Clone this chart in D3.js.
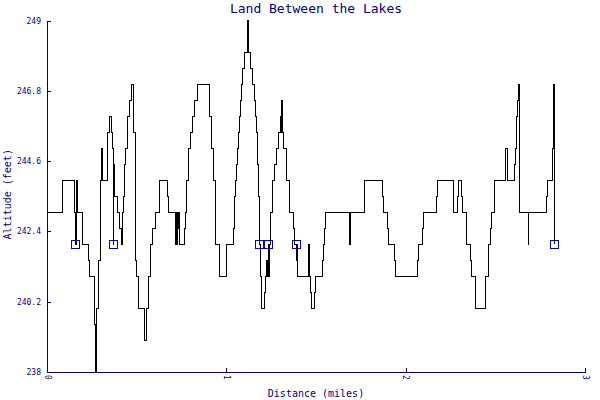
<!DOCTYPE html>
<html>
<head>
<meta charset="utf-8">
<script src="https://cdn.jsdelivr.net/npm/d3@7"></script>
<style>
  html, body { margin: 0; padding: 0; background: #fff; }
  svg { display: block; }
</style>
</head>
<body>
<svg id="chart" width="600" height="400"></svg>
<script>
// ---- data ----
const title = "Land Between the Lakes";
const xLabel = "Distance (miles)";
const yLabel = "Altitude (feet)";

// distance (miles) where the altitude changes, and the altitude (feet) from there on
const distance = [
  0.0000, 0.0853, 0.1544, 0.1600, 0.1655, 0.1711, 0.1990, 0.2324, 0.2357, 0.2658,
  0.2675, 0.2703, 0.2731, 0.2748, 0.2770, 0.2881, 0.2993, 0.3026, 0.3104, 0.3361,
  0.3472, 0.3584, 0.3639, 0.3695, 0.3717, 0.3734, 0.3751, 0.3773, 0.3918, 0.4029,
  0.4141, 0.4219, 0.4275, 0.4330, 0.4386, 0.4475, 0.4587, 0.4698, 0.4849, 0.4921,
  0.4977, 0.5088, 0.5423, 0.5534, 0.5646, 0.5757, 0.5869, 0.6036, 0.6281, 0.6705,
  0.6783, 0.7150, 0.7178, 0.7206, 0.7262, 0.7318, 0.7357, 0.7412, 0.7652, 0.7708,
  0.7786, 0.7897, 0.8009, 0.8120, 0.8209, 0.8376, 0.9068, 0.9196, 0.9291, 0.9380,
  0.9603, 1.0004, 1.0383, 1.0439, 1.0494, 1.0550, 1.0606, 1.0684, 1.0728, 1.0795,
  1.0851, 1.0923, 1.1035, 1.1174, 1.1219, 1.1369, 1.1481, 1.1592, 1.1648, 1.1704,
  1.1759, 1.1815, 1.1854, 1.1888, 1.1943, 1.2111, 1.2166, 1.2222, 1.2278, 1.2333,
  1.2361, 1.2389, 1.2445, 1.2556, 1.2668, 1.2779, 1.2891, 1.3002, 1.3041, 1.3069,
  1.3114, 1.3169, 1.3376, 1.3504, 1.3727, 1.3783, 1.3933, 1.3961, 1.3989, 1.4563,
  1.4591, 1.4618, 1.4646, 1.4674, 1.4730, 1.4897, 1.4953, 1.5343, 1.5399, 1.5455,
  1.5510, 1.6848, 1.6903, 1.7684, 1.8687, 1.8743, 1.8966, 1.9021, 1.9356, 1.9411,
  2.0638, 2.0693, 2.0916, 2.0972, 2.1697, 2.1752, 2.2644, 2.2867, 2.2923, 2.3090,
  2.3146, 2.3369, 2.3592, 2.3647, 2.3870, 2.4428, 2.4595, 2.4706, 2.4762, 2.4929,
  2.5542, 2.5654, 2.6044, 2.6100, 2.6155, 2.6211, 2.6267, 2.6322, 2.6824, 2.6863,
  2.7827, 2.7882, 2.8161, 2.8217, 2.8245, 2.8273
];
const altitude = [
  243, 244, 243, 242, 244, 243, 242, 241.5, 241, 240,
  239.5, 238, 239.5, 238, 240, 241.5, 244, 245, 244, 245.5,
  246, 245.5, 245, 242, 245, 243.5, 244.5, 243.5, 243, 242.5,
  242, 243, 243.5, 244.5, 245, 246, 246.5, 247, 245.5, 241.5,
  241, 240, 239, 240, 241, 242, 242.5, 243, 244, 243.5,
  243, 242, 243, 242, 243, 242.5, 243, 242, 242.5, 243,
  244, 245, 245.5, 246, 246.5, 247, 246, 245, 244, 242,
  241, 242, 242.5, 243.5, 244, 244.5, 245, 245.5, 246, 246.5,
  247, 247.5, 248, 249, 248, 247.5, 247, 246.5, 246, 245.5,
  244.5, 243.5, 242, 241, 240, 240.5, 241, 241.5, 241, 242,
  241, 242, 243, 244, 244.5, 245, 245.5, 246, 245.5, 246.5,
  245.5, 245, 244, 243, 242.5, 242, 241.5, 242, 241, 242,
  241, 242, 241, 240.5, 240, 240.5, 241, 241.5, 242, 242.5,
  243, 242, 243, 244, 243.5, 243, 242.5, 242, 241.5, 241,
  241.5, 242, 242.5, 243, 243.5, 244, 243, 243.5, 244, 243.5,
  243, 242, 241.5, 241, 240, 241, 242, 242.5, 243, 244,
  245, 244, 244.5, 245, 246, 246.5, 247, 243, 242, 243,
  243.5, 244, 245, 246, 247, 242
];

// waypoint markers
const waypointDistance = [0.1600, 0.3695, 1.1854, 1.2333, 1.3894, 2.8273];
const waypointAltitude = [242, 242, 242, 242, 242, 242];

// axes
const xTicks = [0, 1, 2, 3];
const xTickLabels = ["0", "1", "2", "3"];
const yTicks = [238, 240.2, 242.4, 244.6, 246.8, 249];
const yTickLabels = ["238", "240.2", "242.4", "244.6", "246.8", "249"];

// ---- drawing ----
const navy = "#000080";
const font = "'DejaVu Sans Mono', 'Liberation Mono', monospace";
const svg = d3.select("#chart");
const plotLeft = 47, plotRight = 585, plotTop = 20.5, plotBottom = 372;

const x = d3.scaleLinear().domain([0, 3]).range([plotLeft, plotRight]);
const y = d3.scaleLinear().domain([238, 249]).range([plotBottom, plotTop]);

const points = distance.map((d, i) => [d, altitude[i]]);

const line = d3.line()
  .x(d => x(d[0]))
  .y(d => y(d[1]))
  .curve(d3.curveStepAfter);

svg.append("path")
  .datum(points)
  .attr("d", line)
  .attr("fill", "none")
  .attr("stroke", "#000")
  .attr("stroke-width", 1)
  .attr("shape-rendering", "crispEdges");

// y axis
const yAxis = d3.axisLeft(y)
  .tickValues(yTicks)
  .tickFormat((d, i) => yTickLabels[i])
  .tickSizeInner(-4)
  .tickSizeOuter(0)
  .tickPadding(6);
const gy = svg.append("g").attr("transform", `translate(${plotLeft},0)`).call(yAxis);
gy.selectAll("path, line").attr("stroke", navy).attr("shape-rendering", "crispEdges");
gy.selectAll("text").attr("fill", navy).style("font-family", font).style("font-size", "8px");

// x axis
const xAxis = d3.axisBottom(x)
  .tickValues(xTicks)
  .tickFormat((d, i) => xTickLabels[i])
  .tickSizeInner(-4)
  .tickSizeOuter(0);
const gx = svg.append("g").attr("transform", `translate(0,${plotBottom})`).call(xAxis);
gx.selectAll("path, line").attr("stroke", navy).attr("shape-rendering", "crispEdges");
gx.selectAll("text")
  .attr("fill", navy)
  .style("font-family", font)
  .style("font-size", "8px")
  .attr("x", 3).attr("y", 0).attr("dy", "0.35em")
  .attr("transform", "rotate(90)")
  .style("text-anchor", "start");

// waypoint markers
svg.append("g").selectAll("rect")
  .data(waypointDistance.map((d, i) => [d, waypointAltitude[i]]))
  .join("rect")
  .attr("x", d => x(d[0]) - 4)
  .attr("y", d => y(d[1]) - 4)
  .attr("width", 8)
  .attr("height", 8)
  .attr("fill", "none")
  .attr("stroke", "#0000cc")
  .attr("stroke-width", 1)
  .attr("shape-rendering", "crispEdges");

// title
svg.append("text")
  .attr("x", (plotLeft + plotRight) / 2)
  .attr("y", 13)
  .attr("text-anchor", "middle")
  .attr("fill", navy)
  .style("font-family", font)
  .style("font-size", "13px")
  .text(title);

// x label
svg.append("text")
  .attr("x", (plotLeft + plotRight) / 2)
  .attr("y", 397)
  .attr("text-anchor", "middle")
  .attr("fill", navy)
  .style("font-family", font)
  .style("font-size", "10px")
  .text(xLabel);

// y label
svg.append("text")
  .attr("transform", `translate(11,${(plotTop + plotBottom) / 2 - 2}) rotate(-90)`)
  .attr("text-anchor", "middle")
  .attr("fill", navy)
  .style("font-family", font)
  .style("font-size", "10px")
  .text(yLabel);
</script>
</body>
</html>
